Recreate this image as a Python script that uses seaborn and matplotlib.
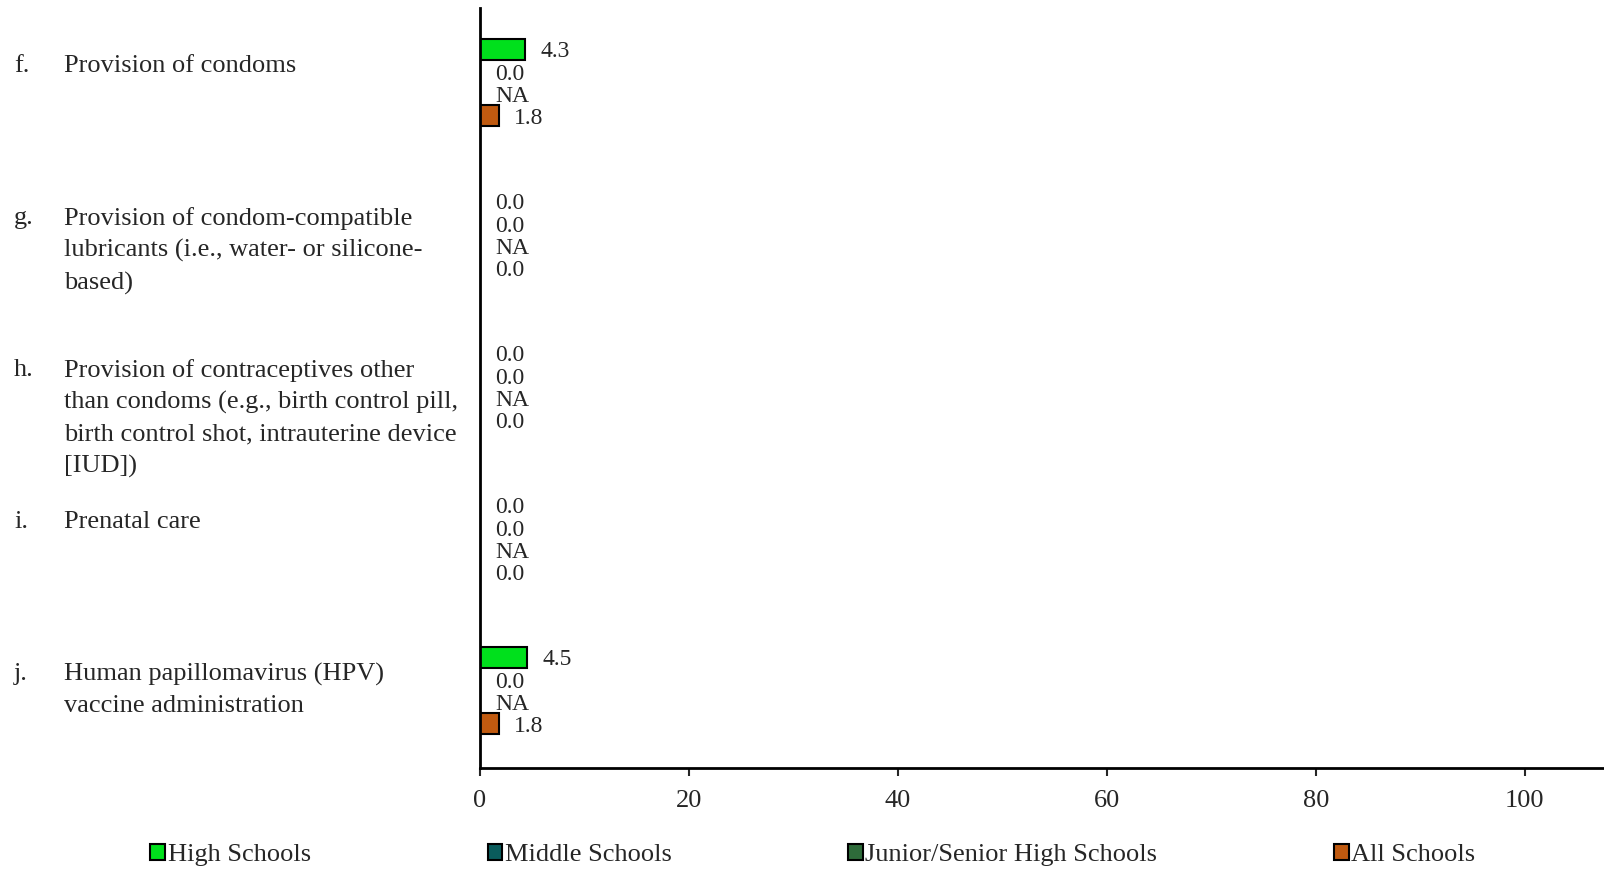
import numpy as np
import pandas as pd
import matplotlib
matplotlib.use("Agg")
import matplotlib.pyplot as plt
import matplotlib.transforms as mtransforms
from matplotlib.patches import Patch
import seaborn as sns

# Data
letters = ["f.", "g.", "h.", "i.", "j."]
categories = [
    "Provision of condoms",
    "Provision of condom-compatible\nlubricants (i.e., water- or silicone-\nbased)",
    "Provision of contraceptives other\nthan condoms (e.g., birth control pill,\nbirth control shot, intrauterine device\n[IUD])",
    "Prenatal care",
    "Human papillomavirus (HPV)\nvaccine administration",
]
school_types = ["High Schools", "Middle Schools", "Junior/Senior High Schools", "All Schools"]
high_schools = [4.3, 0.0, 0.0, 0.0, 4.5]
middle_schools = [0.0, 0.0, 0.0, 0.0, 0.0]
junior_senior = [np.nan, np.nan, np.nan, np.nan, np.nan]  # shown as NA
all_schools = [1.8, 0.0, 0.0, 0.0, 1.8]
colors = ["#00E01C", "#0A5C5C", "#2E6B3A", "#C05A10"]
x_ticks = [0, 20, 40, 60, 80, 100]

series = [high_schools, middle_schools, junior_senior, all_schools]
rows = []
for name, vals in zip(school_types, series):
    for cat, v in zip(categories, vals):
        rows.append({"category": cat, "school": name, "value": v})
df = pd.DataFrame(rows)

sns.set_style("white")
plt.rcParams["font.family"] = ["Liberation Serif", "DejaVu Serif"]

fig = plt.figure(figsize=(16.04, 8.69), dpi=100)
ax = fig.add_axes([480 / 1604, 1 - 768 / 869, 1 - 480 / 1604, (768 - 8) / 869])

group_width = 0.584
sns.barplot(data=df, y="category", x="value", hue="school",
            order=categories, hue_order=school_types, palette=colors,
            orient="h", width=group_width, gap=0.05, edgecolor="black",
            linewidth=1.5, saturation=1, errorbar=None, legend=False, ax=ax)

# value labels, NA where no data
n = len(school_types)
for i in range(len(categories)):
    for j, vals in enumerate(series):
        v = vals[i]
        y = i + (j - (n - 1) / 2) * group_width / n
        txt = "NA" if np.isnan(v) else f"{v:.1f}"
        x = 0 if np.isnan(v) else v
        ax.annotate(txt, (x, y), xytext=(11, -2), textcoords="offset points",
                    va="center", ha="left", fontsize=17)

ax.set_xlim(0, 107.6)
ax.set_ylim(len(categories) - 0.49, -0.49)
ax.set_xticks(x_ticks)
ax.set_xticklabels([str(t) for t in x_ticks], fontsize=19)
ax.set_yticks([])
ax.set_xlabel("")
ax.set_ylabel("")
ax.tick_params(axis="x", direction="out", length=6, width=1.5, pad=10, bottom=True)
for side in ["top", "right"]:
    ax.spines[side].set_visible(False)
for side in ["left", "bottom"]:
    ax.spines[side].set_linewidth(2)
    ax.spines[side].set_color("black")

# category labels on the left
trans = mtransforms.blended_transform_factory(fig.transFigure, ax.transData)
for i, (let, cat) in enumerate(zip(letters, categories)):
    ax.text(14 / 1604, i - 0.18, let, transform=trans, va="top", ha="left",
            fontsize=19, clip_on=False)
    ax.text(64 / 1604, i - 0.18, cat, transform=trans, va="top", ha="left",
            fontsize=19, linespacing=1.52, clip_on=False)

handles = [Patch(facecolor=c, edgecolor="black", linewidth=1.5) for c in colors]
fig.legend(handles, school_types, loc="center", bbox_to_anchor=(813 / 1604, 1 - 855 / 869),
           ncol=4, frameon=False, fontsize=19, handlelength=0.55, handleheight=0.55,
           handletextpad=0.1, columnspacing=6.7, borderpad=0.1)

fig.savefig("out.png", dpi=100)
